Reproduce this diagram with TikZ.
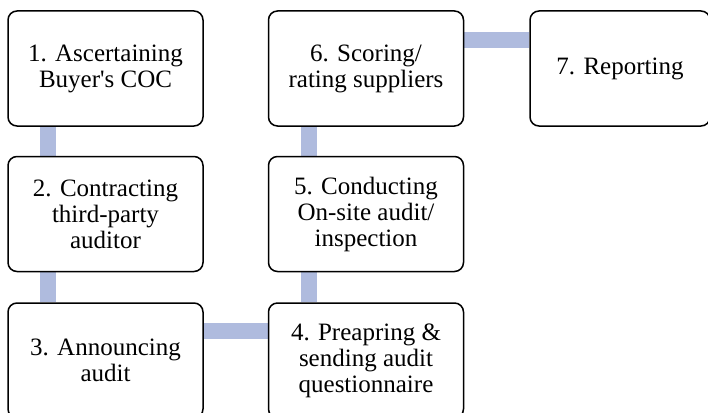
\documentclass[tikz,border=0pt]{standalone}
\usepackage{fontspec}
\setmainfont{Liberation Serif}
\usepackage{xcolor}
\usepackage{tikz}
\definecolor{linkblue}{RGB}{175,187,222}
\usetikzlibrary{positioning,backgrounds}

\begin{document}
\begin{tikzpicture}[
    stage/.style={rectangle, draw, line width=1.5pt, fill=white, rounded corners=9pt, minimum width=195pt, minimum height=115pt, align=center, font=\fontsize{25}{26}\selectfont},
    link/.style={draw=linkblue, line width=16pt}
]
\useasboundingbox (0,0) rectangle (708pt,-412pt);

% Left column
\node[stage] (ascertain) at (105.5pt,-68.5pt) {1. Ascertaining\\Buyer\textquotesingle s COC};
\node[stage, below=29pt of ascertain] (contract) {2. Contracting\\third-party\\auditor};
\node[stage, below=30pt of contract] (announce) {3. Announcing\\audit};

% Middle column
\node[stage, right=64pt of announce] (questionnaire) {4. Preapring \&\\sending audit\\questionnaire};
\node[stage, above=30pt of questionnaire] (onsite) {5. Conducting\\On-site audit/\\inspection};
\node[stage, above=29pt of onsite] (scoring) {6. Scoring/\\rating suppliers};

% Right
\node[stage, minimum width=180pt, right=65pt of scoring] (report) {7. Reporting};

% Links
\begin{scope}[on background layer]
\draw[link] ([xshift=-57.5pt]ascertain.south) -- ([xshift=-57.5pt]contract.north);
\draw[link] ([xshift=-57.5pt]contract.south) -- ([xshift=-57.5pt]announce.north);
\draw[link] ([yshift=29.5pt]announce.east) -- ([yshift=29.5pt]questionnaire.west);
\draw[link] ([xshift=-57.5pt]questionnaire.north) -- ([xshift=-57.5pt]onsite.south);
\draw[link] ([xshift=-57.5pt]onsite.north) -- ([xshift=-57.5pt]scoring.south);
\draw[link] ([yshift=28.5pt]scoring.east) -- ([yshift=28.5pt]report.west);
\end{scope}

\end{tikzpicture}
\end{document}
